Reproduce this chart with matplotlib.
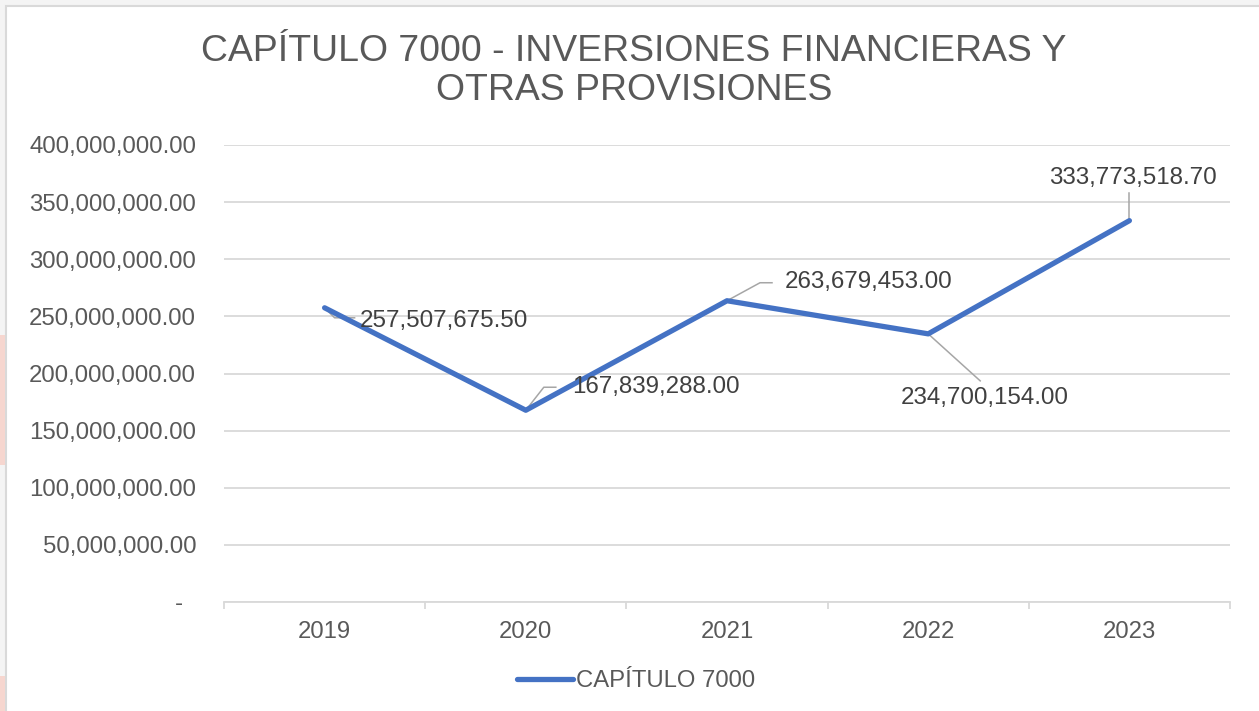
import matplotlib
matplotlib.use("Agg")
import matplotlib.pyplot as plt
from matplotlib.patches import Rectangle
from matplotlib.lines import Line2D
from matplotlib.ticker import FuncFormatter, FixedLocator

years = ["2019", "2020", "2021", "2022", "2023"]
values = [257507675.50, 167839288.00, 263679453.00, 234700154.00, 333773518.70]
series_name = "CAPÍTULO 7000"
title = "CAPÍTULO 7000 - INVERSIONES FINANCIERAS Y\nOTRAS PROVISIONES"
y_ticks = [0, 50e6, 100e6, 150e6, 200e6, 250e6, 300e6, 350e6, 400e6]

plt.rcParams['font.family'] = ['Liberation Sans', 'DejaVu Sans']

W, H = 1259, 711
DPI = 100
fig = plt.figure(figsize=(W / DPI, H / DPI), dpi=DPI)
fig.patch.set_facecolor('#f4f4f4')

def px(x0, y0, x1, y1):
    return (x0 / W, 1 - y1 / H, (x1 - x0) / W, (y1 - y0) / H)

# white chart area with a light frame
fig.patches.append(Rectangle((6 / W, -0.01), 1.01 - 6 / W, 1.01 - 6 / H, transform=fig.transFigure,
                             facecolor='white', edgecolor='#d9d9d9', linewidth=1.5, zorder=-10))
# pink slide background bits on left edge
for (ya, yb) in [(335, 465), (676, 711)]:
    fig.patches.append(Rectangle((0, 1 - yb / H), 5 / W, (yb - ya) / H, transform=fig.transFigure,
                                 facecolor='#f6d6cf', edgecolor='none', zorder=-9))

ax = fig.add_axes(px(224, 145, 1230, 602))
ax.set_facecolor('none')
ax.set_zorder(1)

x = list(range(len(years)))
ax.plot(x, values, color='#4472C4', linewidth=3.8, solid_capstyle='round',
        solid_joinstyle='round', zorder=3, label=series_name)

ax.set_xlim(-0.5, len(years) - 0.5)
ax.set_ylim(0, 400e6)
ax.set_yticks(y_ticks)

def fmt(v, pos):
    if v == 0:
        return "-  "
    return f"{v:,.2f}"

ax.yaxis.set_major_formatter(FuncFormatter(fmt))
ax.set_xticks(x)
ax.set_xticklabels(years)
ax.xaxis.set_minor_locator(FixedLocator([i - 0.5 for i in range(len(years) + 1)]))

ax.grid(axis='y', color='#d9d9d9', linewidth=1.3, zorder=0)
ax.set_axisbelow(True)
for s in ['top', 'right', 'left']:
    ax.spines[s].set_visible(False)
ax.spines['bottom'].set_color('#d9d9d9')
ax.spines['bottom'].set_linewidth(1.3)

ax.tick_params(axis='y', length=0, pad=20, labelsize=17.3, labelcolor='#595959')
ax.tick_params(axis='x', which='major', length=0, pad=14, labelsize=17.2, labelcolor='#595959')
ax.tick_params(axis='x', which='minor', length=5, width=1.3, color='#d9d9d9', direction='out')

# data labels with leader lines (offsets in pixels, y up)
label_cfg = [
    dict(leader=[(0, 0), (10, -10), (30, -10)], text=(35, -13), ha='left'),
    dict(leader=[(0, 0), (18, 23), (30, 23)], text=(46, 23), ha='left'),
    dict(leader=[(0, 0), (33, 18), (45, 18)], text=(58, 19), ha='left'),
    dict(leader=[(0, 0), (52, -47)], text=(56, -64), ha='center'),
    dict(leader=[(0, 0), (0, 28)], text=(3, 43), ha='center'),
]
for xi, v, cfg in zip(x, values, label_cfg):
    pts = cfg['leader']
    pdx, pdy = ax.transData.transform((xi, v))
    line = Line2D([pdx + p[0] for p in pts], [pdy + p[1] for p in pts],
                  transform=None, color='#a6a6a6', linewidth=1.1, zorder=2)
    ax.add_line(line)
    ax.annotate(f"{v:,.2f}", xy=(xi, v), xytext=(cfg['text'][0] * 0.72, cfg['text'][1] * 0.72),
                textcoords='offset points', ha=cfg['ha'], va='center', fontsize=17.4,
                color='#404040', zorder=4)

fig.text(634 / W, 1 - 71 / H, title, ha='center', va='center', fontsize=26.9,
         color='#595959', linespacing=1.16)

leg = ax.legend(loc='center', bbox_to_anchor=(636 / W, 1 - 681 / H), bbox_transform=fig.transFigure,
                frameon=False, fontsize=17.2, handlelength=2.35, handletextpad=0.15,
                labelcolor='#595959')

fig.savefig("out.png", dpi=DPI, facecolor=fig.get_facecolor())
